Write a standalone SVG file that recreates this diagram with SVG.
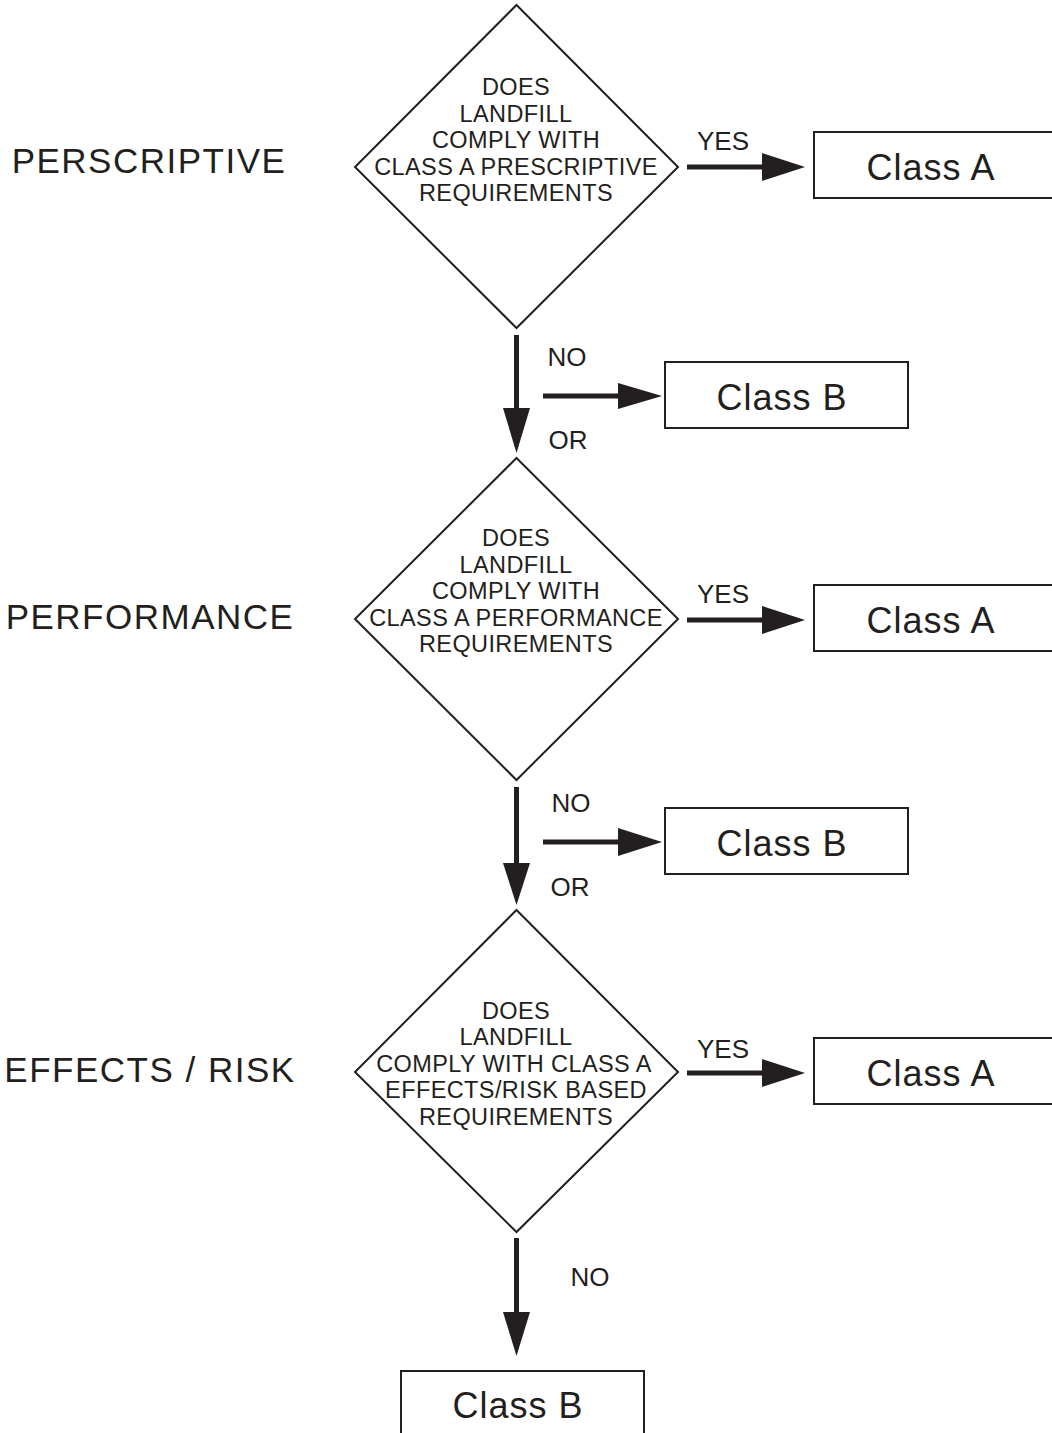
<svg xmlns="http://www.w3.org/2000/svg" width="1052" height="1433" viewBox="0 0 1052 1433">
<style>
text{font-family:"Liberation Sans",Arial,sans-serif;fill:#231f20;text-anchor:middle}
.d{fill:#fff;stroke:#231f20;stroke-width:2}
.b{fill:#fff;stroke:#231f20;stroke-width:2}
.dt{font-size:23.5px;letter-spacing:0.4px}
.lab{font-size:35px;letter-spacing:1.5px}
.cls{font-size:36px;letter-spacing:1px}
.yn{font-size:26px}
.ln{stroke:#231f20;stroke-width:5;fill:none}
.ah{fill:#231f20}
</style>
<rect width="1052" height="1433" fill="#fff"/>
<g id="labels">
<text class="lab" x="149" y="173">PERSCRIPTIVE</text>
<text class="lab" x="150" y="629">PERFORMANCE</text>
<text class="lab" x="150" y="1082">EFFECTS / RISK</text>
</g>
<g id="d1">
<polygon class="d" points="516.5,5 678,167 516.5,328 355,167"/>
<text class="dt" x="516" y="95">DOES</text>
<text class="dt" x="516" y="122">LANDFILL</text>
<text class="dt" x="516" y="148">COMPLY WITH</text>
<text class="dt" x="516" y="175">CLASS A PRESCRIPTIVE</text>
<text class="dt" x="516" y="201">REQUIREMENTS</text>
</g>
<g id="d2">
<polygon class="d" points="516.5,458 678,619 516.5,780 355,619"/>
<text class="dt" x="516" y="546">DOES</text>
<text class="dt" x="516" y="573">LANDFILL</text>
<text class="dt" x="516" y="599">COMPLY WITH</text>
<text class="dt" x="516" y="626">CLASS A PERFORMANCE</text>
<text class="dt" x="516" y="652">REQUIREMENTS</text>
</g>
<g id="d3">
<polygon class="d" points="516.5,910 678,1072 516.5,1232 355,1072"/>
<text class="dt" x="516" y="1019">DOES</text>
<text class="dt" x="516" y="1045">LANDFILL</text>
<text class="dt" x="514" y="1072">COMPLY WITH CLASS A</text>
<text class="dt" x="516" y="1098">EFFECTS/RISK BASED</text>
<text class="dt" x="516" y="1125">REQUIREMENTS</text>
</g>
<g id="a1">
<rect class="b" x="814" y="132" width="250" height="66"/>
<text class="cls" x="931" y="180">Class A</text>
</g>
<g id="a2">
<rect class="b" x="814" y="585" width="250" height="66"/>
<text class="cls" x="931" y="633">Class A</text>
</g>
<g id="a3">
<rect class="b" x="814" y="1038" width="250" height="66"/>
<text class="cls" x="931" y="1086">Class A</text>
</g>
<g id="b1">
<rect class="b" x="665" y="362" width="243" height="66"/>
<text class="cls" x="782" y="410">Class B</text>
</g>
<g id="b2">
<rect class="b" x="665" y="808" width="243" height="66"/>
<text class="cls" x="782" y="856">Class B</text>
</g>
<g id="b3">
<rect class="b" x="401" y="1371" width="243" height="80"/>
<text class="cls" x="518" y="1418">Class B</text>
</g>
<g id="connectors">
<line class="ln" x1="687" y1="167" x2="764" y2="167"/>
<polygon class="ah" points="762,153 805,167 762,181"/>
<line class="ln" x1="687" y1="620" x2="764" y2="620"/>
<polygon class="ah" points="762,606 805,620 762,634"/>
<line class="ln" x1="687" y1="1073" x2="764" y2="1073"/>
<polygon class="ah" points="762,1059 805,1073 762,1087"/>
<line class="ln" x1="516.5" y1="335" x2="516.5" y2="410"/>
<polygon class="ah" points="503,408 530,408 516.5,453"/>
<line class="ln" x1="543" y1="396" x2="620" y2="396"/>
<polygon class="ah" points="618,383 662,396 618,409"/>
<line class="ln" x1="516.5" y1="787" x2="516.5" y2="865"/>
<polygon class="ah" points="503,863 530,863 516.5,905"/>
<line class="ln" x1="543" y1="842" x2="620" y2="842"/>
<polygon class="ah" points="618,828 662,842 618,856"/>
<line class="ln" x1="516.5" y1="1238" x2="516.5" y2="1314"/>
<polygon class="ah" points="503,1312 530,1312 516.5,1356"/>
<text class="yn" x="723" y="150">YES</text>
<text class="yn" x="723" y="603">YES</text>
<text class="yn" x="723" y="1058">YES</text>
<text class="yn" x="567" y="366">NO</text>
<text class="yn" x="568" y="449">OR</text>
<text class="yn" x="571" y="812">NO</text>
<text class="yn" x="570" y="896">OR</text>
<text class="yn" x="590" y="1286">NO</text>
</g>
</svg>
